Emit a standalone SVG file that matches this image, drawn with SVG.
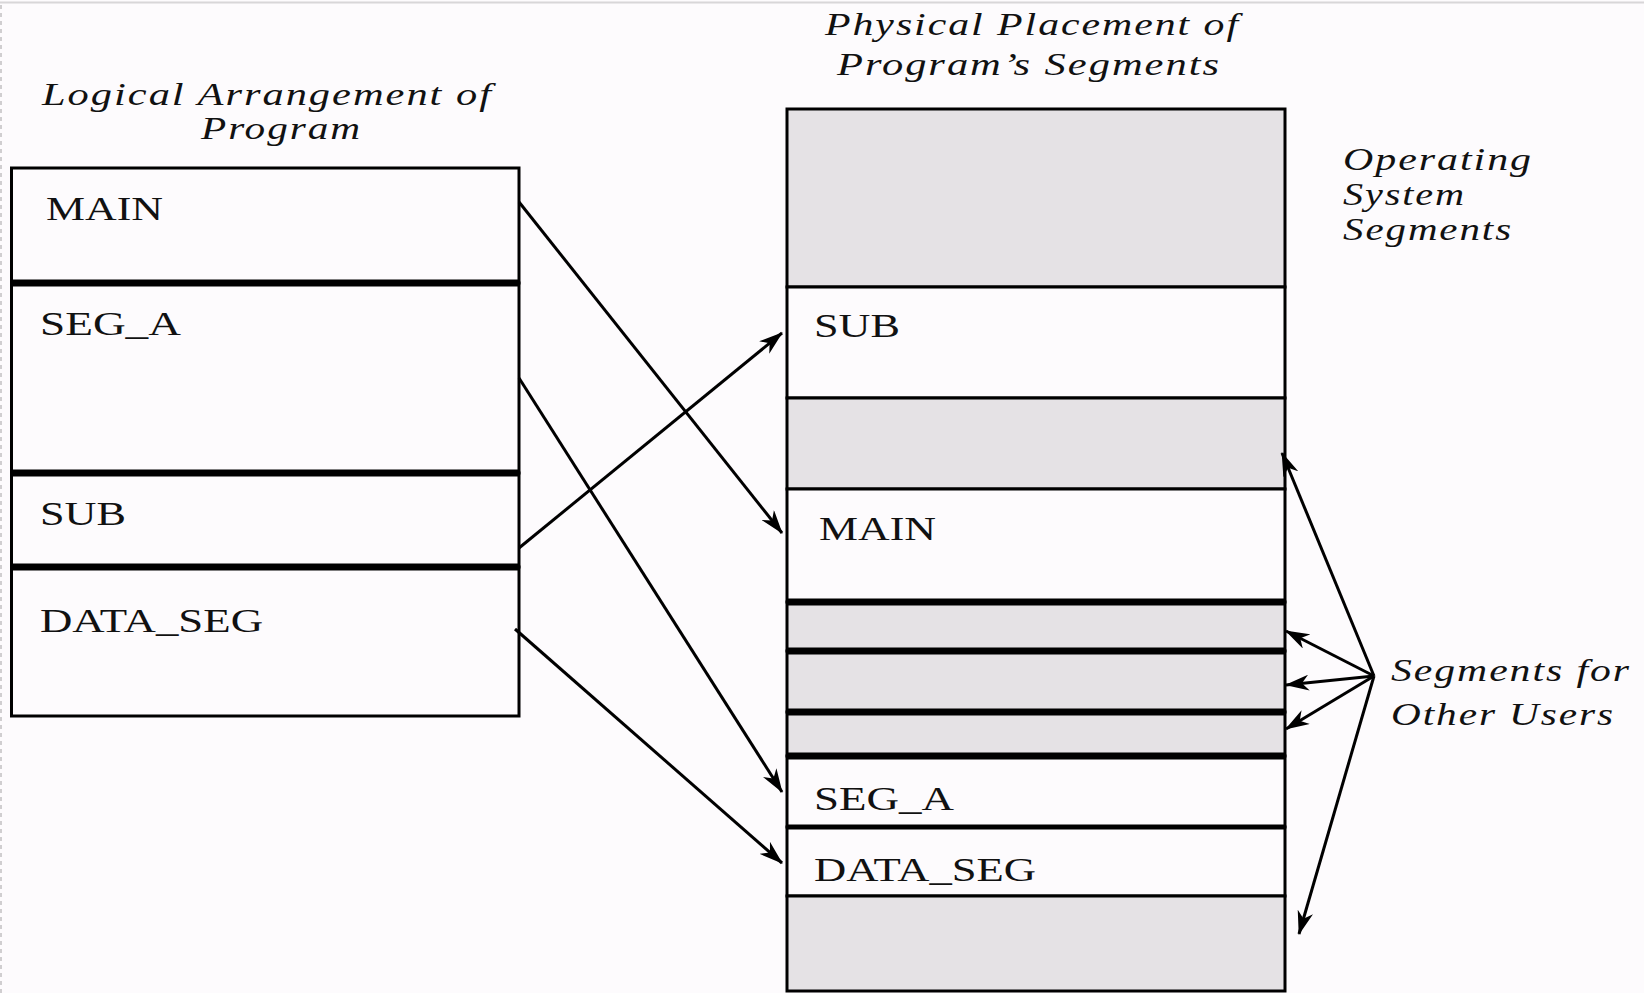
<svg xmlns="http://www.w3.org/2000/svg" width="1644" height="993" viewBox="0 0 1644 993">
  <style>
    .bg { fill: #fdfbfd; }
    .seg { stroke: #000; stroke-width: 3; }
    .free { fill: #fdfbfd; }
    .used { fill: #e5e2e5; }
    .thick { stroke: #000; stroke-width: 7; }
    .lbl { font-family: "Liberation Serif", "Times New Roman", serif; font-size: 34px; fill: #111; }
    .cap { font-family: "Liberation Serif", "Times New Roman", serif; font-style: italic; font-size: 32px; letter-spacing: 1.5px; fill: #111; }
    .link { stroke: #000; stroke-width: 3; fill: none; marker-end: url(#head); }
  </style>
  <defs>
    <marker id="head" markerUnits="userSpaceOnUse" markerWidth="24" markerHeight="16" viewBox="0 0 24 16" refX="23" refY="8" orient="auto">
      <path d="M0,0 L24,8 L0,16 L7,8 z" fill="#000"/>
    </marker>
  </defs>

  <!-- page -->
  <rect class="bg" x="0" y="0" width="1644" height="993"/>
  <line x1="0" y1="2.5" x2="1644" y2="2.5" stroke="#d8d6d8" stroke-width="2"/>
  <line x1="1" y1="5" x2="1" y2="993" stroke="#d0ced0" stroke-width="2" stroke-dasharray="4 4"/>

  <!-- left column: logical arrangement -->
  <g id="title-logical">
    <text class="cap" x="42" y="105" textLength="451" lengthAdjust="spacingAndGlyphs">Logical Arrangement of</text>
    <text class="cap" x="201" y="139" textLength="161" lengthAdjust="spacingAndGlyphs">Program</text>
  </g>

  <g id="logical-main">
    <rect class="seg free" x="11.5" y="168" width="507.5" height="115"/>
    <text class="lbl" x="46" y="220" textLength="117" lengthAdjust="spacingAndGlyphs">MAIN</text>
  </g>
  <g id="logical-seg-a">
    <rect class="seg free" x="11.5" y="283" width="507.5" height="190"/>
    <text class="lbl" x="40" y="335" textLength="141" lengthAdjust="spacingAndGlyphs">SEG_A</text>
  </g>
  <g id="logical-sub">
    <rect class="seg free" x="11.5" y="473" width="507.5" height="94"/>
    <text class="lbl" x="40" y="525" textLength="86" lengthAdjust="spacingAndGlyphs">SUB</text>
  </g>
  <g id="logical-data-seg">
    <rect class="seg free" x="11.5" y="567" width="507.5" height="149"/>
    <text class="lbl" x="40" y="632" textLength="223" lengthAdjust="spacingAndGlyphs">DATA_SEG</text>
  </g>
  <g id="logical-dividers">
    <line class="thick" x1="11.5" y1="283" x2="519" y2="283"/>
    <line class="thick" x1="11.5" y1="473" x2="519" y2="473"/>
    <line class="thick" x1="11.5" y1="567" x2="519" y2="567"/>
  </g>

  <!-- right column: physical placement -->
  <g id="title-physical">
    <text class="cap" x="825" y="35" textLength="415" lengthAdjust="spacingAndGlyphs">Physical Placement of</text>
    <text class="cap" x="837" y="75" textLength="384" lengthAdjust="spacingAndGlyphs">Program’s Segments</text>
  </g>

  <g id="phys-os">
    <rect class="seg used" x="787" y="109" width="498" height="178"/>
  </g>
  <g id="phys-sub">
    <rect class="seg free" x="787" y="287" width="498" height="111"/>
    <text class="lbl" x="814" y="337" textLength="86" lengthAdjust="spacingAndGlyphs">SUB</text>
  </g>
  <g id="phys-other-1">
    <rect class="seg used" x="787" y="398" width="498" height="91"/>
  </g>
  <g id="phys-main">
    <rect class="seg free" x="787" y="489" width="498" height="113"/>
    <text class="lbl" x="819" y="540" textLength="117" lengthAdjust="spacingAndGlyphs">MAIN</text>
  </g>
  <g id="phys-other-2">
    <rect class="seg used" x="787" y="602" width="498" height="49"/>
  </g>
  <g id="phys-other-3">
    <rect class="seg used" x="787" y="651" width="498" height="61"/>
  </g>
  <g id="phys-other-4">
    <rect class="seg used" x="787" y="712" width="498" height="44"/>
  </g>
  <g id="phys-seg-a">
    <rect class="seg free" x="787" y="756" width="498" height="71"/>
    <text class="lbl" x="814" y="810" textLength="140" lengthAdjust="spacingAndGlyphs">SEG_A</text>
  </g>
  <g id="phys-data-seg">
    <rect class="seg free" x="787" y="827" width="498" height="69"/>
    <text class="lbl" x="814" y="881" textLength="222" lengthAdjust="spacingAndGlyphs">DATA_SEG</text>
  </g>
  <g id="phys-other-5">
    <rect class="seg used" x="787" y="896" width="498" height="95"/>
  </g>
  <g id="phys-dividers">
    <line class="thick" x1="787" y1="602" x2="1285" y2="602"/>
    <line class="thick" x1="787" y1="651" x2="1285" y2="651"/>
    <line class="thick" x1="787" y1="712" x2="1285" y2="712"/>
    <line class="thick" x1="787" y1="756" x2="1285" y2="756"/>
    <line class="thick" x1="787" y1="827" x2="1285" y2="827" style="stroke-width:5"/>
  </g>

  <!-- side labels -->
  <g id="label-os">
    <text class="cap" x="1343" y="170" textLength="190" lengthAdjust="spacingAndGlyphs">Operating</text>
    <text class="cap" x="1343" y="205" textLength="123" lengthAdjust="spacingAndGlyphs">System</text>
    <text class="cap" x="1343" y="240" textLength="170" lengthAdjust="spacingAndGlyphs">Segments</text>
  </g>
  <g id="label-other-users">
    <text class="cap" x="1391" y="681" textLength="240" lengthAdjust="spacingAndGlyphs">Segments for</text>
    <text class="cap" x="1391" y="725" textLength="224" lengthAdjust="spacingAndGlyphs">Other Users</text>
  </g>

  <!-- connectors -->
  <g id="connectors">
    <line class="link" x1="519" y1="202" x2="782" y2="533"/>
    <line class="link" x1="519" y1="378" x2="782" y2="792"/>
    <line class="link" x1="519" y1="548" x2="782" y2="333"/>
    <line class="link" x1="515" y1="629" x2="782" y2="863"/>
    <line class="link" x1="1374" y1="676" x2="1282" y2="453"/>
    <line class="link" x1="1374" y1="676" x2="1286" y2="631"/>
    <line class="link" x1="1374" y1="676" x2="1286" y2="685"/>
    <line class="link" x1="1374" y1="676" x2="1286" y2="729"/>
    <line class="link" x1="1374" y1="676" x2="1299" y2="934"/>
  </g>
</svg>
